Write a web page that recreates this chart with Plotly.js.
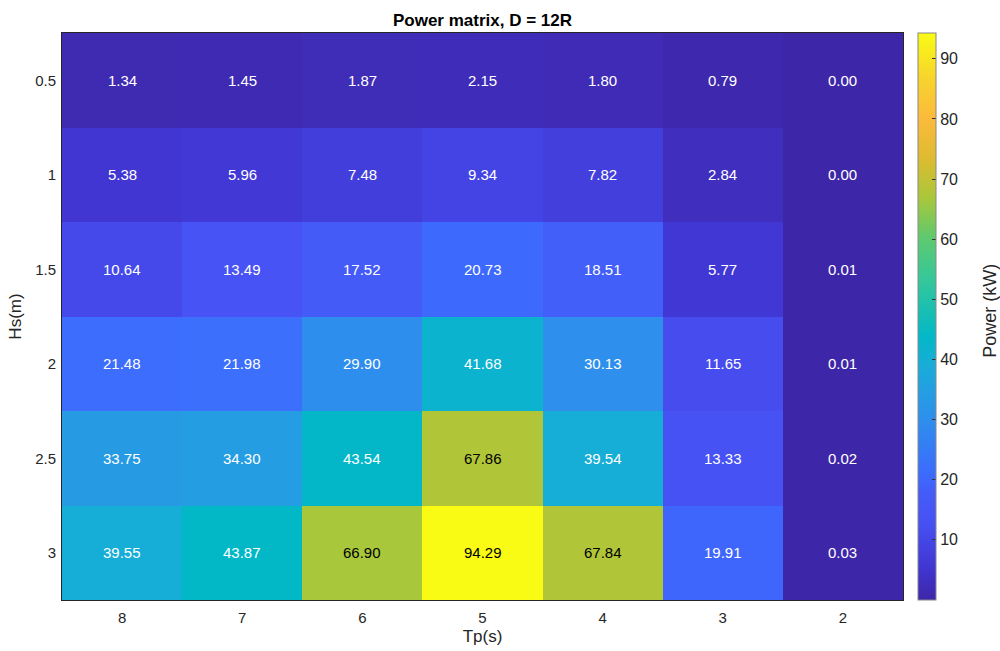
<!DOCTYPE html>
<html><head><meta charset="utf-8">
<script src="https://cdn.plot.ly/plotly-3.0.1.min.js"></script>
<style>html,body{margin:0;padding:0;background:#fff}#chart{width:1000px;height:651px}</style>
</head><body><div id="chart"></div>
<script>
const tpLabels = ['8','7','6','5','4','3','2'];
const hsLabels = ['0.5','1','1.5','2','2.5','3'];
const power = [
  [1.34, 1.45, 1.87, 2.15, 1.80, 0.79, 0.00],
  [5.38, 5.96, 7.48, 9.34, 7.82, 2.84, 0.00],
  [10.64, 13.49, 17.52, 20.73, 18.51, 5.77, 0.01],
  [21.48, 21.98, 29.90, 41.68, 30.13, 11.65, 0.01],
  [33.75, 34.30, 43.54, 67.86, 39.54, 13.33, 0.02],
  [39.55, 43.87, 66.90, 94.29, 67.84, 19.91, 0.03]
];
const parula = [
  [0.00,'rgb(62,38,168)'],
  [0.06,'rgb(65,55,212)'],
  [0.14,'rgb(71,82,244)'],
  [0.19,'rgb(68,92,248)'],
  [0.225,'rgb(60,108,254)'],
  [0.32,'rgb(46,143,236)'],
  [0.36,'rgb(38,156,228)'],
  [0.42,'rgb(22,174,214)'],
  [0.465,'rgb(2,184,199)'],
  [0.57,'rgb(55,200,151)'],
  [0.64,'rgb(95,201,110)'],
  [0.71,'rgb(170,199,58)'],
  [0.78,'rgb(222,187,48)'],
  [0.85,'rgb(252,186,60)'],
  [0.92,'rgb(247,212,45)'],
  [1.00,'rgb(249,251,20)']
];
const font = 'Liberation Sans, Arial, sans-serif';
const annotations = [];
hsLabels.forEach((h,i)=>tpLabels.forEach((t,j)=>{
  const v = power[i][j];
  annotations.push({x:j, y:i, xref:'x', yref:'y', text:v.toFixed(2), showarrow:false,
    font:{family:font, size:15, color: v > 60 ? '#000000' : '#ffffff'}});
}));
annotations.push({x:1.1034, y:0.51, xref:'paper', yref:'paper', text:'Power (kW)', textangle:-90,
  showarrow:false, xanchor:'center', yanchor:'middle', font:{family:font, size:18, color:'#262626'}});
const trace = {
  type:'heatmap', x:tpLabels, y:hsLabels, z:power, colorscale:parula, zmin:0,
  xgap:0, ygap:0, hoverinfo:'skip',
  colorbar:{x:1.018, xanchor:'left', xpad:0, ypad:0, y:0.5, yanchor:'middle', len:1, lenmode:'fraction',
    thickness:18, outlinewidth:1, outlinecolor:'#888',
    tickvals:[10,20,30,40,50,60,70,80,90], ticks:'inside', ticklen:4, tickcolor:'#333',
    tickfont:{family:font, size:16, color:'#262626'}}
};
const layout = {
  width:1000, height:651,
  margin:{l:62, r:97, t:33, b:51},
  paper_bgcolor:'#fff', plot_bgcolor:'#fff',
  title:{text:'<b>Power matrix, D = 12R</b>', x:0.5, xref:'paper', y:1, yref:'paper', yanchor:'bottom', pad:{b:7},
    font:{family:font, size:17, color:'#000'}},
  xaxis:{type:'category', range:[-0.5,6.5], autorange:false, showgrid:false, zeroline:false, ticks:'',
    showline:true, mirror:true, linecolor:'#262626', linewidth:1,
    tickfont:{family:font, size:15, color:'#262626'}, ticklabelstandoff:4,
    title:{text:'Tp(s)', font:{family:font, size:17, color:'#262626'}, standoff:5}},
  yaxis:{type:'category', range:[5.5,-0.5], autorange:false, showgrid:false, zeroline:false, ticks:'',
    showline:true, mirror:true, linecolor:'#262626', linewidth:1,
    tickfont:{family:font, size:15, color:'#262626'}, ticklabelstandoff:2,
    title:{text:'Hs(m)', font:{family:font, size:17, color:'#262626'}, standoff:9}},
  annotations:annotations
};
Plotly.newPlot('chart',[trace],layout,{displayModeBar:false, staticPlot:true});
</script></body></html>
